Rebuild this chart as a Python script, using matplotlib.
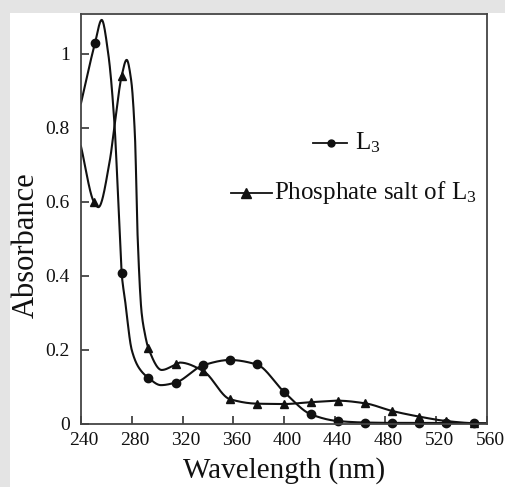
import numpy as np
import matplotlib
matplotlib.use("Agg")
import matplotlib.pyplot as plt
import matplotlib.transforms as mtransforms
from matplotlib.patches import Rectangle

plt.rcParams["font.family"] = ["Liberation Serif", "DejaVu Serif"]
plt.rcParams["mathtext.fontset"] = "custom"
plt.rcParams["mathtext.rm"] = "Liberation Serif"
plt.rcParams["mathtext.it"] = "Liberation Serif:italic"

# Ligand L3: curve readings (nm, absorbance) and the marked points
l3_wl = [240, 251, 256.3, 261.5, 266.2, 270.7, 272, 274.7, 280, 286, 293,
         303, 314.6, 336.4, 357.4, 378.4, 400, 421.3, 442.3, 463.8, 485.5,
         506.5, 528, 549.7, 560]
l3_abs = [0.867, 1.029, 1.092, 1.0, 0.82, 0.50, 0.409, 0.335, 0.20, 0.15, 0.125,
          0.105, 0.112, 0.159, 0.173, 0.161, 0.087, 0.026, 0.008, 0.004, 0.003,
          0.003, 0.003, 0.002, 0.002]
l3_mark_wl = [251, 272, 293, 314.6, 336.4, 357.4, 378.4, 400, 421.3, 442.3,
              463.8, 485.5, 506.5, 528, 549.7]
l3_mark_abs = [1.029, 0.409, 0.125, 0.112, 0.159, 0.173, 0.161, 0.087, 0.026,
               0.008, 0.004, 0.003, 0.003, 0.003, 0.002]

# Phosphate salt of L3
ph_wl = [240, 250.2, 253.7, 262.8, 266.2, 272, 276, 279.5, 282.5, 284.7, 287.8,
         290, 293, 303.6, 314.6, 318, 336.4, 357.4, 378.4, 400, 421.3, 442.3,
         463.8, 485.5, 506.5, 528, 549.7, 560]
ph_abs = [0.75, 0.60, 0.586, 0.714, 0.80, 0.94, 0.984, 0.93, 0.78, 0.50, 0.30,
          0.25, 0.206, 0.146, 0.161, 0.166, 0.143, 0.067, 0.055, 0.054, 0.059,
          0.063, 0.056, 0.035, 0.020, 0.008, 0.002, 0.001]
ph_mark_wl = [250.2, 272, 293, 314.6, 336.4, 357.4, 378.4, 400, 421.3, 442.3,
              463.8, 485.5, 506.5, 528, 549.7]
ph_mark_abs = [0.60, 0.94, 0.206, 0.161, 0.143, 0.067, 0.055, 0.054, 0.059,
               0.063, 0.056, 0.035, 0.020, 0.008, 0.002]

x_ticks = [240, 280, 320, 360, 400, 440, 480, 520, 560]
y_ticks = [0, 0.2, 0.4, 0.6, 0.8, 1.0]
y_tick_labels = ["0", "0.2", "0.4", "0.6", "0.8", "1"]


def pchip(x, y, xs):
    """Shape-preserving cubic (Fritsch-Carlson) through the readings."""
    x = np.asarray(x, float)
    y = np.asarray(y, float)
    h = np.diff(x)
    d = np.diff(y) / h
    m = np.zeros_like(y)
    for k in range(1, len(x) - 1):
        if d[k - 1] * d[k] > 0:
            w1 = 2 * h[k] + h[k - 1]
            w2 = h[k] + 2 * h[k - 1]
            m[k] = (w1 + w2) / (w1 / d[k - 1] + w2 / d[k])
    m[0] = d[0]
    m[-1] = d[-1]
    idx = np.clip(np.searchsorted(x, xs) - 1, 0, len(x) - 2)
    t = (xs - x[idx]) / h[idx]
    h00 = 2 * t**3 - 3 * t**2 + 1
    h10 = t**3 - 2 * t**2 + t
    h01 = -2 * t**3 + 3 * t**2
    h11 = t**3 - t**2
    return (h00 * y[idx] + h10 * h[idx] * m[idx] + h01 * y[idx + 1]
            + h11 * h[idx] * m[idx + 1])


fig = plt.figure(figsize=(5.06, 4.87), dpi=100)
fig.patch.set_facecolor("#e4e4e4")
fig.patches.append(Rectangle((10 / 506, 0), 1, 1 - 13 / 487,
                             transform=fig.transFigure, facecolor="white",
                             edgecolor="none", zorder=-10))

ax = fig.add_axes([81 / 506, 1 - 424 / 487, 406 / 506, 410 / 487])
ax.set_facecolor("white")

xs = np.linspace(240, 560, 1200)
ink = "#111111"
ax.plot(xs, pchip(l3_wl, l3_abs, xs), color=ink, lw=1.5, clip_on=True)
ax.plot(xs, pchip(ph_wl, ph_abs, xs), color=ink, lw=1.5, clip_on=True)
ax.plot(l3_mark_wl, l3_mark_abs, "o", color=ink, ms=6, clip_on=False)
ax.plot(ph_mark_wl, ph_mark_abs, "^", color=ink, ms=6, clip_on=False)

ax.set_xlim(240, 560)
ax.set_ylim(0, 1.108)
ax.set_xticks(x_ticks)
ax.set_yticks(y_ticks)
ax.set_yticklabels(y_tick_labels)
ax.tick_params(direction="in", length=6, width=1.2, colors="#333333",
               labelcolor="#111111", labelsize=14)
ax.tick_params(axis="y", pad=8)
ax.tick_params(axis="x", pad=6)
shift = mtransforms.ScaledTranslation(3 / 100, 0, fig.dpi_scale_trans)
for lab in ax.get_xticklabels():
    lab.set_transform(lab.get_transform() + shift)
for s in ax.spines.values():
    s.set_color("#444444")
    s.set_linewidth(1.3)

ax.set_xlabel("Wavelength (nm)", fontsize=21, color="#111111")
ax.xaxis.set_label_coords(0.5, -0.08)
ax.set_ylabel("Absorbance", fontsize=22, color="#111111")
ax.yaxis.set_label_coords(-0.099, 0.437)


# Legend entries drawn inside the axes
def px(xp, yp):
    inv = ax.transData.inverted()
    return inv.transform(fig.transFigure.transform((xp / 506, 1 - yp / 487)))


ax.plot([px(313, 0)[0], px(347, 0)[0]], [px(0, 143)[1]] * 2, color=ink, lw=1.3)
ax.plot([px(331, 0)[0]], [px(0, 143)[1]], "o", color=ink, ms=5)
ax.text(px(355, 0)[0], px(0, 143)[1], r"L$_3$", fontsize=18, va="center",
        ha="left", color="#111111")

ax.plot([px(231, 0)[0], px(272, 0)[0]], [px(0, 193)[1]] * 2, color=ink, lw=1.3)
ax.plot([px(246, 0)[0]], [px(0, 193)[1]], "^", color=ink, ms=7)
ax.text(px(274, 0)[0], px(0, 193)[1], r"Phosphate salt of L$_3$", fontsize=18,
        va="center", ha="left", color="#111111")

fig.savefig("out.png", dpi=100, facecolor=fig.get_facecolor())
